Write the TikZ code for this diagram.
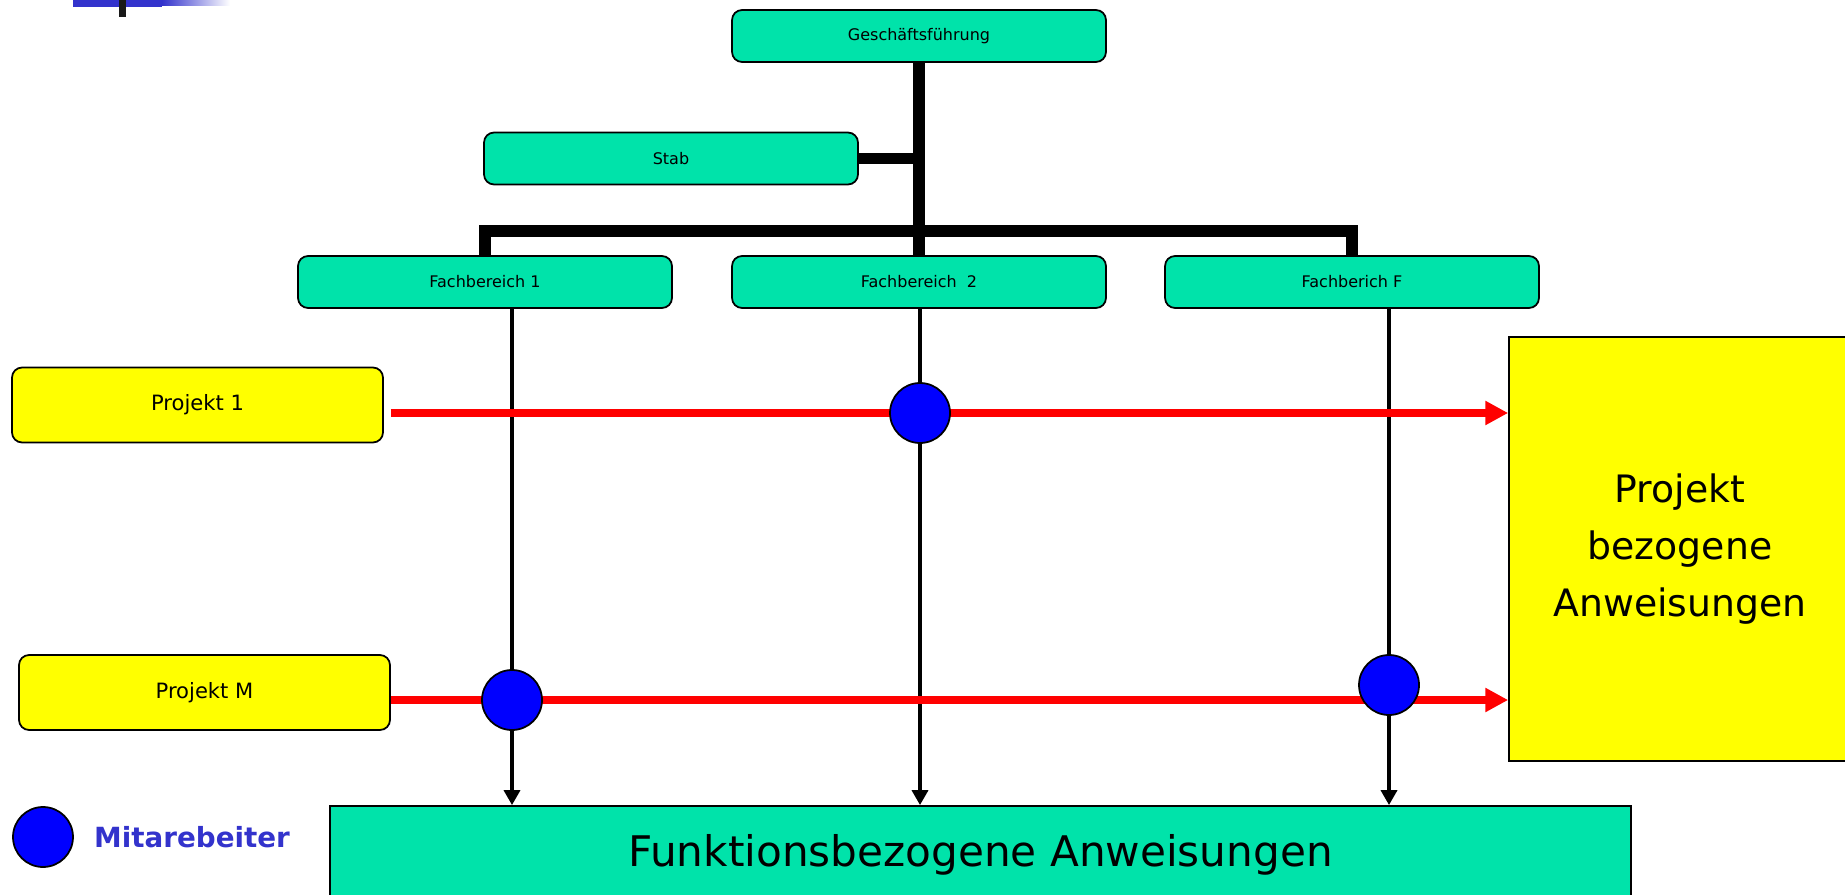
\documentclass[tikz,border=0pt]{standalone}
\usepackage{fontspec}
\setmainfont{DejaVu Sans}
\usepackage{xcolor}
\usepackage{tikz}
\usetikzlibrary{arrows.meta}
\usetikzlibrary{positioning}
\definecolor{orggreen}{RGB}{0,227,170}
\definecolor{slideblue}{RGB}{51,51,204}
\definecolor{projyellow}{RGB}{255,255,0}
\definecolor{workerblue}{RGB}{0,0,255}
\definecolor{projred}{RGB}{255,0,0}
\pgfdeclarelayer{background}
\pgfsetlayers{background,main}

\begin{document}
\begin{tikzpicture}[x=0.02cm,y=-0.02cm,
    unit/.style={draw=black,line width=1pt,fill=orggreen,rounded corners=0.2cm,
      minimum width=7.48cm,minimum height=1.04cm,inner sep=0pt,
      font=\fontsize{9.1}{11}\selectfont},
    proj/.style={draw=black,line width=1pt,fill=projyellow,rounded corners=0.2cm,
      minimum width=7.42cm,minimum height=1.5cm,inner sep=0pt,
      font=\fontsize{12}{14}\selectfont},
    worker/.style={circle,draw=black,line width=1pt,fill=workerblue,
      minimum size=1.2cm,inner sep=0pt},
    bus/.style={line width=6.8pt},
    fline/.style={line width=2.4pt,-{Triangle[length=8.5pt,width=9pt]}},
    pline/.style={projred,line width=4.5pt,-{Triangle[length=13pt,width=13pt]}}]

        \useasboundingbox (0,0) rectangle (1845,895);

        % slide decoration
        \fill[slideblue] (73,0) rectangle (162,7);
        \shade[left color=slideblue,right color=white] (162,0) rectangle (230,6);
        \fill[black!90] (119,0) rectangle (126,17);

        % line organisation
        \node[unit] (gf) at (919,36) {Geschäftsführung};
        \node[unit] (stab) at (671,158.5) {Stab};
        \node[unit] (fb1) at (485,282) {Fachbereich 1};
        \node[unit] (fb2) at (919,282) {Fachbereich\ \ 2};
        \node[unit] (fbF) at (1352,282) {Fachberich F};

        % projects
        \node[proj] (proj1) at (197.5,405) {Projekt 1};
        \node[proj] (projM) at (204.5,692.5) {Projekt M};

        \node[draw=black,line width=1pt,fill=projyellow,minimum width=6.84cm,minimum height=8.48cm,
          inner sep=0pt,align=center,font=\fontsize{21.5}{32.4}\selectfont] (pba) at (1680,549)
          {Projekt\\bezogene\\Anweisungen};
        \node[draw=black,line width=1pt,fill=orggreen,minimum width=26.02cm,minimum height=1.96cm,
          inner sep=0pt,font=\fontsize{24}{30}\selectfont] (fkt) at (980.5,855)
          {Funktionsbezogene Anweisungen};

        % workers
        \node[worker] (m1) at (920,413) {};
        \node[worker] (m2) at (512,700) {};
        \node[worker] (m3) at (1389,685) {};

        % legend
        \node[worker] (legdot) at (43,837) {};
        \node[right=0.4cm of legdot,inner sep=0pt,text=slideblue,
          font=\bfseries\fontsize{15.8}{18}\selectfont] (legtext) {Mitarebeiter};

        \begin{pgfonlayer}{background}
        \draw[bus] (gf.south) -- (fb2.north);
        \draw[bus] (stab.east) -- (stab.east -| gf.south);
        \draw[bus] (fb1.north) -- ++(0,-24) -| (fbF.north);

        \draw[fline] (m2 |- fb1.south) -- (m2 |- fkt.north);
        \draw[fline] (m1 |- fb2.south) -- (m1 |- fkt.north);
        \draw[fline] (m3 |- fbF.south) -- (m3 |- fkt.north);

        \draw[pline,shorten <=0.14cm] (proj1.east |- m1) -- (pba.west |- m1);
        \draw[pline] (projM.east |- m2) -- (pba.west |- m2);
        \end{pgfonlayer}

    \end{tikzpicture}
\end{document}
